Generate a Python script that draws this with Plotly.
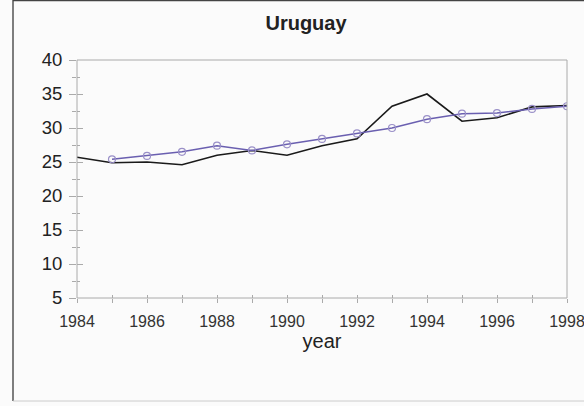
import plotly.graph_objects as go

years_actual = [1984, 1985, 1986, 1987, 1988, 1989, 1990, 1991, 1992, 1993, 1994, 1995, 1996, 1997, 1998]
actual = [25.7, 24.9, 25.0, 24.6, 26.0, 26.7, 26.0, 27.4, 28.4, 33.2, 35.0, 31.0, 31.5, 33.1, 33.3]

years_fit = [1985, 1986, 1987, 1988, 1989, 1990, 1991, 1992, 1993, 1994, 1995, 1996, 1997, 1998]
fitted = [25.4, 25.9, 26.5, 27.4, 26.7, 27.6, 28.4, 29.2, 30.0, 31.3, 32.1, 32.2, 32.8, 33.2]

x_ticks = [1984, 1986, 1988, 1990, 1992, 1994, 1996, 1998]
y_ticks = [5, 10, 15, 20, 25, 30, 35, 40]

FONT = "Liberation Sans, Arial, sans-serif"
AX = "#aaaaaa"

fig = go.Figure()
fig.add_trace(go.Scatter(
    x=years_actual, y=actual, mode="lines",
    line=dict(color="#1a1a1a", width=1.6), showlegend=False, hoverinfo="skip"))
fig.add_trace(go.Scatter(
    x=years_fit, y=fitted, mode="lines+markers",
    line=dict(color="#6a5fb0", width=1.5),
    marker=dict(symbol="circle-open", size=7, color="#9a90c8", line=dict(width=1.2)),
    showlegend=False))
# invisible trace that carries the overlay axes (inner half of the crossing ticks)
fig.add_trace(go.Scatter(
    x=years_actual, y=actual, mode="lines", xaxis="x2", yaxis="y2",
    line=dict(color="rgba(0,0,0,0)", width=0), showlegend=False, hoverinfo="skip"))

W, H = 584, 406
L, R, T, B = 77, 17, 60, 108
pw, ph = W - L - R, H - T - B

def px(xp):
    return (xp - L) / pw

def py(yp):
    return (H - B - yp) / ph

shapes = [
    # plot frame
    dict(type="rect", xref="paper", yref="paper", x0=0, x1=1, y0=0, y1=1,
         line=dict(color=AX, width=1), layer="above"),
    # outer picture frame
    dict(type="line", xref="paper", yref="paper", x0=px(13), x1=px(13), y0=py(0), y1=py(401),
         line=dict(color="#555555", width=1.5)),
    dict(type="line", xref="paper", yref="paper", x0=px(13), x1=px(590), y0=py(0.6), y1=py(0.6),
         line=dict(color="#444444", width=1.5)),
    dict(type="line", xref="paper", yref="paper", x0=px(13), x1=px(590), y0=py(401), y1=py(401),
         line=dict(color="#cccccc", width=1)),
]

fig.update_layout(
    width=W, height=H,
    margin=dict(l=L, r=R, t=T, b=B, pad=0, autoexpand=False),
    paper_bgcolor="#fbfbfb", plot_bgcolor="#fbfbfb",
    title=dict(text="<b>Uruguay</b>", x=306 / W, xref="container", xanchor="center",
               y=1 - 23 / H, yref="container", yanchor="middle", automargin=False,
               font=dict(family=FONT, size=20, color="#222222")),
    font=dict(family=FONT, size=15, color="#222222"),
    shapes=shapes,
    xaxis=dict(range=[1984, 1998], tickvals=x_ticks, ticktext=[str(v) for v in x_ticks],
               automargin=False,
               showgrid=False, zeroline=False, showline=False,
               ticks="outside", ticklen=4, tickcolor=AX, ticklabelstandoff=5,
               ticklabeloverflow="allow",
               minor=dict(dtick=1, tick0=1984, ticks="outside", ticklen=4, tickcolor=AX),
               tickfont=dict(size=16, color="#333333"),
               title=dict(text="year", font=dict(size=20, color="#222222"), standoff=4)),
    yaxis=dict(range=[5, 40], tickvals=y_ticks, ticktext=[str(v) for v in y_ticks],
               automargin=False,
               showgrid=False, zeroline=False, showline=False,
               ticks="outside", ticklen=7, tickcolor=AX, ticklabelstandoff=3,
               ticklabeloverflow="allow",
               minor=dict(dtick=2.5, tick0=5, ticks="outside", ticklen=4, tickcolor=AX),
               tickfont=dict(size=18.5, color="#222222")),
    xaxis2=dict(range=[1984, 1998], overlaying="x", anchor="y2", side="bottom",
                automargin=False,
                tickvals=x_ticks, showticklabels=False, showgrid=False, zeroline=False,
                showline=False, ticks="inside", ticklen=3, tickcolor=AX,
                minor=dict(dtick=1, tick0=1984, ticks="inside", ticklen=3, tickcolor=AX)),
    yaxis2=dict(range=[5, 40], overlaying="y", anchor="x2", side="left",
                automargin=False,
                tickvals=y_ticks, showticklabels=False, showgrid=False, zeroline=False,
                showline=False, ticks="inside", ticklen=6, tickcolor=AX,
                minor=dict(dtick=2.5, tick0=5, ticks="inside", ticklen=3, tickcolor=AX)),
)

fig.write_html("out.html", config={"displayModeBar": False},
               post_script="document.body.style.margin='0';document.body.style.overflow='hidden';")
